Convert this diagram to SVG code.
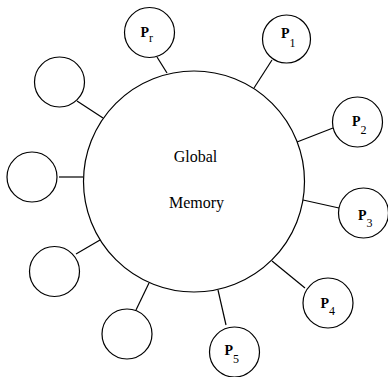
<svg xmlns="http://www.w3.org/2000/svg" width="388" height="377" viewBox="0 0 388 377">
<style>
.c{fill:#fff;stroke:#000;stroke-width:1.2}
.l{stroke:#000;stroke-width:1.2;fill:none}
</style>
<rect width="388" height="377" fill="#fff"/>
<g id="connectors">
<line class="l" x1="157" y1="57" x2="167" y2="73"/>
<line class="l" x1="272" y1="60" x2="254" y2="88"/>
<line class="l" x1="333" y1="128" x2="297" y2="142"/>
<line class="l" x1="303" y1="200" x2="339" y2="208"/>
<line class="l" x1="272" y1="261" x2="305" y2="288"/>
<line class="l" x1="218" y1="290" x2="226" y2="325"/>
<line class="l" x1="149" y1="283" x2="136" y2="310"/>
<line class="l" x1="100" y1="240" x2="76" y2="254"/>
<line class="l" x1="59" y1="177" x2="83" y2="177"/>
<line class="l" x1="77" y1="101" x2="103" y2="118"/>
</g>
<g id="global-memory">
<circle class="c" cx="194" cy="181.5" r="110.5"/>
<text font-family="Liberation Serif, Times New Roman, DejaVu Serif, serif" font-size="16" x="195.5" y="161.5" text-anchor="middle">Global</text>
<text font-family="Liberation Serif, Times New Roman, DejaVu Serif, serif" font-size="16" x="196.5" y="207.5" text-anchor="middle">Memory</text>
</g>
<g font-family="Liberation Serif, Times New Roman, DejaVu Serif, serif" font-size="14" font-weight="bold">
<g id="Pr"><circle class="c" cx="149.5" cy="32.5" r="25"/><text x="140.5" y="37">P<tspan font-size="12" font-weight="normal" dy="5">r</tspan></text></g>
<g id="P1"><circle class="c" cx="286.5" cy="39" r="24"/><text x="281" y="37.5">P<tspan font-size="12" font-weight="normal" dy="9">1</tspan></text></g>
<g id="P2"><circle class="c" cx="357.5" cy="122" r="25"/><text x="352" y="125.5">P<tspan font-size="12" font-weight="normal" dy="8.5">2</tspan></text></g>
<g id="P3"><circle class="c" cx="363.5" cy="213" r="25"/><text x="358" y="220">P<tspan font-size="12" font-weight="normal" dy="6.5">3</tspan></text></g>
<g id="P4"><circle class="c" cx="328" cy="303" r="25"/><text x="320.5" y="308">P<tspan font-size="12" font-weight="normal" dy="7">4</tspan></text></g>
<g id="P5"><circle class="c" cx="234.5" cy="352" r="25"/><text x="224.5" y="354.5">P<tspan font-size="12" font-weight="normal" dy="8">5</tspan></text></g>
</g>
<g id="n-bottom-left"><circle class="c" cx="127" cy="334" r="25"/></g>
<g id="n-left-lower"><circle class="c" cx="54.5" cy="271.5" r="25"/></g>
<g id="n-left-middle"><circle class="c" cx="32" cy="177" r="25"/></g>
<g id="n-left-upper"><circle class="c" cx="59.5" cy="82" r="25"/></g>
</svg>
